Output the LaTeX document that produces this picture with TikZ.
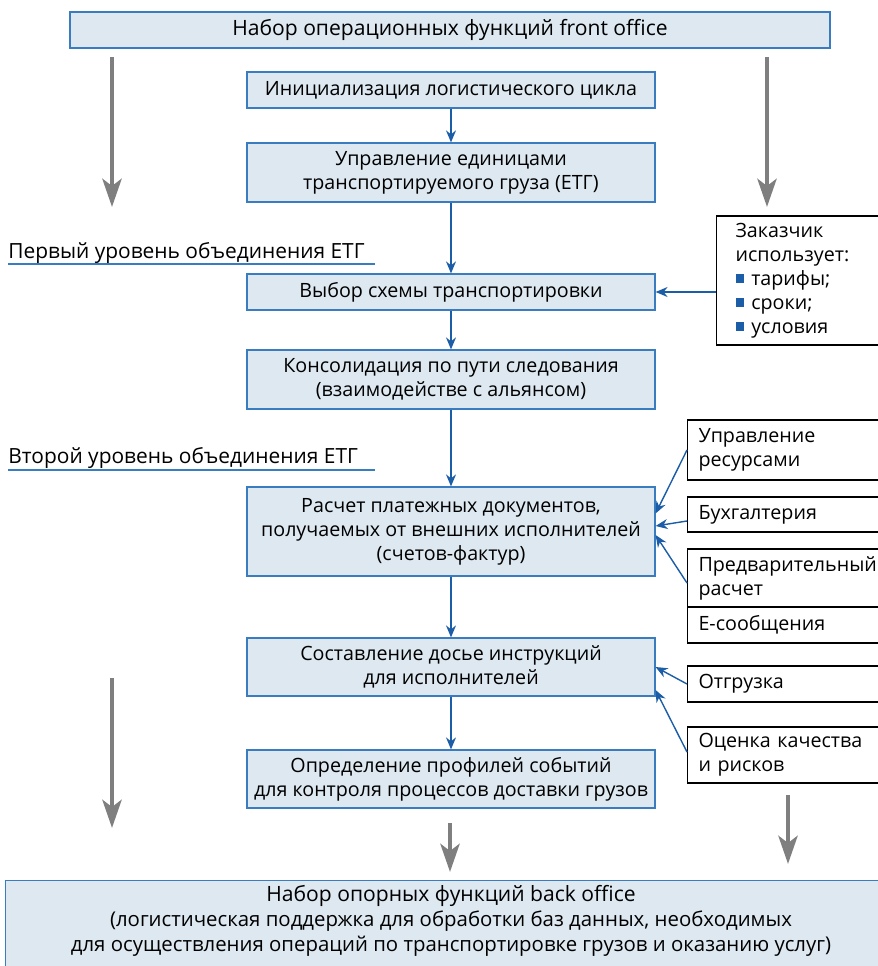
\documentclass[tikz,border=0pt]{standalone}
\usepackage{fontspec}
\setmainfont{Open Sans}
\usetikzlibrary{arrows.meta,positioning,calc}
\definecolor{boxfill}{HTML}{DDE8F1}
\definecolor{boxline}{HTML}{3A7CC0}
\definecolor{flowblue}{HTML}{1C5DA8}
\definecolor{biggray}{HTML}{7F7F7F}
\newcommand{\blt}{\textcolor{flowblue}{\rule[0.12em]{0.45em}{0.45em}}\hspace{0.35em}}

\begin{document}
\begin{tikzpicture}[>=Stealth,x=0.02cm,y=-0.02cm,font=\fontsize{11.2}{13.6}\selectfont]
\tikzstyle{fn}=[draw=boxline,fill=boxfill,line width=0.7pt,minimum width=8.16cm,align=center,inner sep=0pt]
\tikzstyle{side}=[draw,line width=0.6pt,anchor=west,align=left,text width=3.6cm,inner xsep=0.22cm,inner ysep=0pt]
\tikzstyle{flow}=[draw=flowblue,line width=0.8pt,-{Stealth[length=0.24cm,width=0.2cm]}]
\tikzstyle{big}=[draw=biggray,line width=2.8pt,-{Stealth[length=0.56cm,width=0.38cm,inset=0.14cm]}]
\tikzstyle{lvl}=[anchor=base west,inner sep=0pt,font=\fontsize{11.9}{14}\selectfont]
\useasboundingbox (0,0) rectangle (877,966);
% main column
\node[fn,minimum width=15.2cm,minimum height=0.72cm,font=\fontsize{12}{14}\selectfont] (front) at (450,30) {Набор операционных функций front office};
\node[fn,minimum height=0.72cm] (init) at (451,90) {Инициализация логистического цикла};
\node[fn,minimum height=1.18cm] (unit) at (451,172.5) {Управление единицами\\транспортируемого груза (ЕТГ)};
\node[fn,minimum height=0.72cm] (route) at (451,292) {Выбор схемы транспортировки};
\node[fn,minimum height=1.18cm] (cons) at (451,379.5) {Консолидация по пути следования\\(взаимодействе с альянсом)};
\node[fn,minimum height=1.78cm] (pay) at (451,531.5) {Расчет платежных документов,\\получаемых от внешних исполнителей\\(счетов-фактур)};
\node[fn,minimum height=1.16cm] (dossier) at (451,667) {Составление досье инструкций\\для исполнителей};
\node[fn,minimum height=1.16cm] (events) at (451,779) {Определение профилей событий\\для контроля процессов доставки грузов};
\node[fn,anchor=north west,minimum width=17.9cm,minimum height=2.4cm] (backbox) at (5,880) {};
\node[align=center,inner sep=0pt,font=\fontsize{11.6}{14.2}\selectfont] (back) at (451,921) {{\fontsize{12}{14.2}\selectfont Набор опорных функций back office}\\(логистическая поддержка для обработки баз данных, необходимых\\для осуществления операций по транспортировке грузов и оказанию услуг)};
% levels
\node[lvl] (lvl1) at (8,258) {Первый уровень объединения ЕТГ};
\draw[boxline,line width=0.7pt] (lvl1.base west) ++(0,6) -- ++(367,0);
\node[lvl] (lvl2) at (8,463) {Второй уровень объединения ЕТГ};
\draw[boxline,line width=0.7pt] (lvl2.base west) ++(0,7) -- ++(367,0);
% side boxes
\node[side,text width=3.2cm,inner xsep=0.38cm,minimum height=2.58cm] (client) at (716,280.5) {Заказчик\\использует:\\\blt тарифы;\\\blt сроки;\\\blt условия};
\node[side,minimum height=1.2cm] (res) at (687,450) {Управление\\ресурсами};
\node[side,minimum height=0.7cm] (acc) at (687,514.5) {Бухгалтерия};
\node[side,minimum height=1.16cm] (pre) at (687,578) {Предварительный\\расчет};
\node[side,minimum height=0.72cm] (emsg) at (687,625) {Е-сообщения};
\node[side,minimum height=0.72cm] (ship) at (687,684) {Отгрузка};
\node[side,minimum height=1.12cm] (qual) at (687,755) {Оценка качества\\и рисков};
% flow
\draw[flow] (init) -- (unit);
\draw[flow] (unit) -- (route);
\draw[flow] (route) -- (cons);
\draw[flow] (cons) -- (pay);
\draw[flow] (pay) -- (dossier);
\draw[flow] (dossier) -- (events);
\draw[flow] (client.west |- route.east) -- (route.east);
\draw[flow] (res.west) -- ([yshift=0.36cm]pay.east);
\draw[flow] ([yshift=-0.13cm]acc.west) -- ([yshift=0.11cm]pay.east);
\draw[flow] ([yshift=-0.1cm]pre.west) -- ([yshift=-0.07cm]pay.east);
\draw[flow] (ship.west) -- (dossier.east);
\draw[flow] ([yshift=0.06cm]qual.west) -- ([yshift=-0.46cm]dossier.east);
% big gray arrows
\coordinate (tl1) at (112,57); \coordinate (tl2) at (112,207);
\coordinate (tr1) at (767,57); \coordinate (tr2) at (767,207);
\coordinate (bl1) at (112,678); \coordinate (bl2) at (112,828);
\coordinate (bc1) at (450,823); \coordinate (bc2) at (450,872);
\coordinate (br1) at (788,795); \coordinate (br2) at (788,864);
\draw[big] (tl1) -- (tl2);
\draw[big] (tr1) -- (tr2);
\draw[big] (bl1) -- (bl2);
\draw[big] (bc1) -- (bc2);
\draw[big] (br1) -- (br2);
\end{tikzpicture}
\end{document}
